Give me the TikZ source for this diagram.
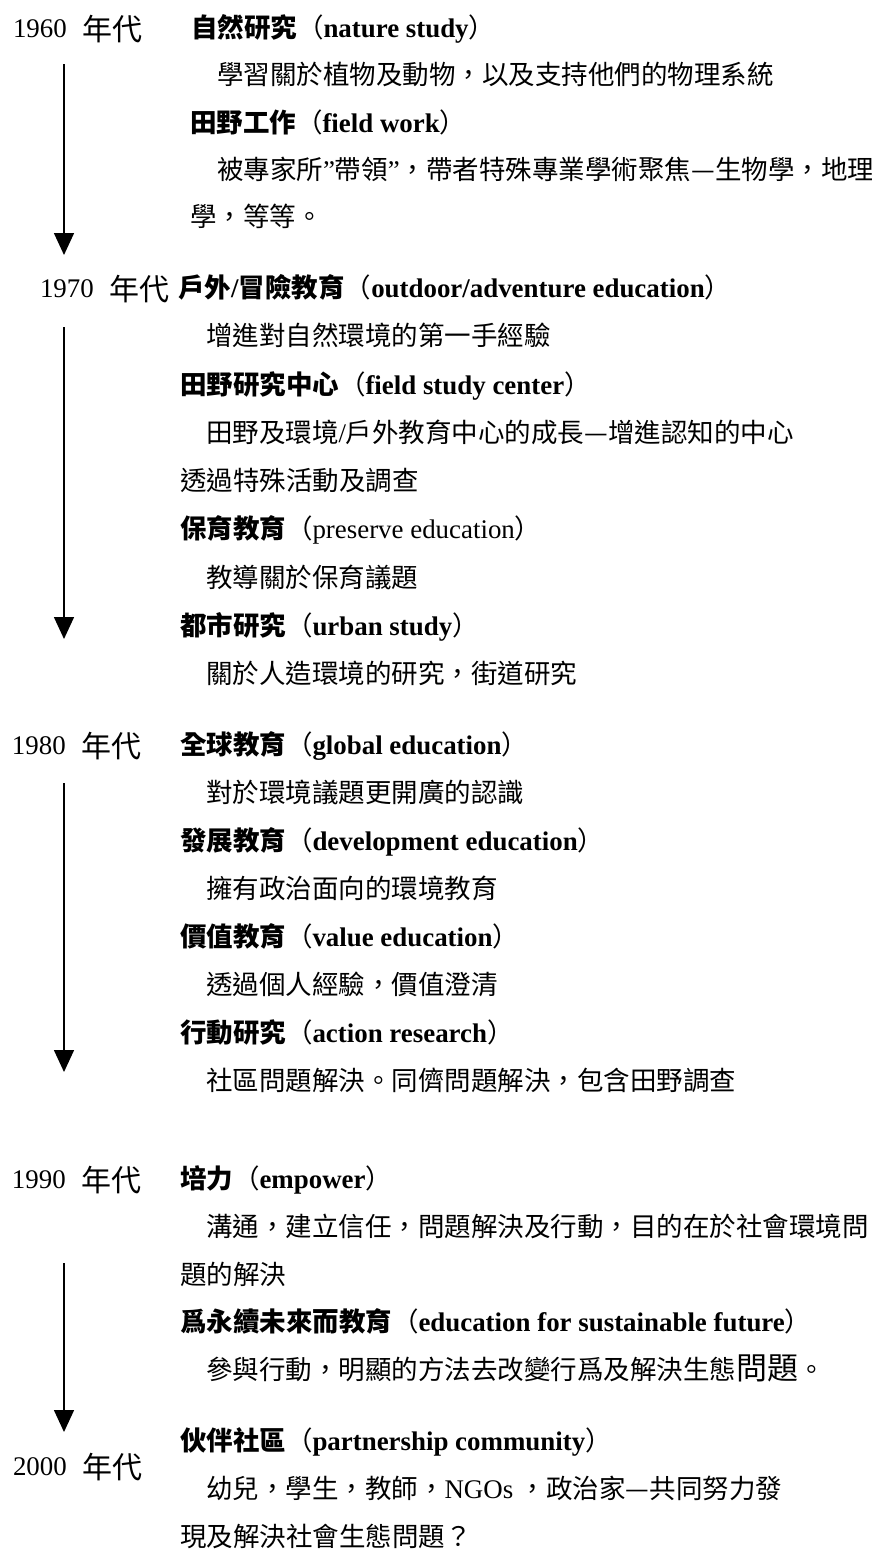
\documentclass[tikz,border=0pt]{standalone}
\usepackage{fontspec}
\setmainfont{Liberation Serif}[Scale=1.015]
\newfontfamily\cjk{Noto Sans CJK TC}
\usetikzlibrary{arrows.meta}
\newcommand\zh[1]{{\cjk #1}}
\newcommand\zhb[1]{{\cjk\bfseries #1}}
\newcommand\zhyr[1]{\raisebox{-2.5pt}{\cjk\fontsize{30}{30}\selectfont #1}}
\newcommand\zhbig[1]{{\cjk\fontsize{31}{31}\selectfont #1}}
\tikzset{
  txt/.style={anchor=west, inner sep=0pt, outer sep=0pt,
    font=\fontsize{26.5}{30}\selectfont, text height=23pt, text depth=3.2pt},
  arr/.style={line width=1.5pt, -{Triangle[width=20pt,length=22pt]}}
}
\begin{document}
\begin{tikzpicture}[x=1pt,y=-1pt]
\useasboundingbox (0,0) rectangle (872,1550);
% ---------- 1960 ----------
\node[txt] (y60) at (13,28) {1960\hspace{16pt}\zhyr{年代}};
\node[txt] (t60a) at (191,28) {\zhb{自然研究}\zh{（}\textbf{nature study}\zh{）}};
\node[txt] (d60a) at (217,75) {\zh{學習關於植物及動物，以及支持他們的物理系統}};
\node[txt] (t60b) at (190,123) {\zhb{田野工作}\zh{（}\textbf{field work}\zh{）}};
\node[txt] (d60b) at (217,170) {\zh{被專家所}"\zh{帶領}"\zh{，帶者特殊專業學術聚焦—生物學，地理}};
\node[txt] (d60c) at (190,217) {\zh{學，等等。}};
\coordinate (a1s) at (64,64);
\coordinate (a1e) at (64,255);
\draw[arr] (a1s) -- (a1e);
% ---------- 1970 ----------
\node[txt] (y70) at (40,288) {1970\hspace{16pt}\zhyr{年代}};
\node[txt] (t70a) at (178,288) {\zhb{戶外}\textbf{/}\zhb{冒險教育}\zh{（}\textbf{outdoor/adventure education}\zh{）}};
\node[txt] (d70a) at (206,336) {\zh{增進對自然環境的第一手經驗}};
\node[txt] (t70b) at (180,385) {\zhb{田野研究中心}\zh{（}\textbf{field study center}\zh{）}};
\node[txt] (d70b) at (206,433) {\zh{田野及環境}/\zh{戶外教育中心的成長—增進認知的中心}};
\node[txt] (d70c) at (180,481) {\zh{透過特殊活動及調查}};
\node[txt] (t70c) at (180,529) {\zhb{保育教育}\zh{（}preserve education\zh{）}};
\node[txt] (d70d) at (206,578) {\zh{教導關於保育議題}};
\node[txt] (t70d) at (180,626) {\zhb{都市研究}\zh{（}\textbf{urban study}\zh{）}};
\node[txt] (d70e) at (206,674) {\zh{關於人造環境的研究，街道研究}};
\coordinate (a2s) at (64,327);
\coordinate (a2e) at (64,639);
\draw[arr] (a2s) -- (a2e);
% ---------- 1980 ----------
\node[txt] (y80) at (12,745) {1980\hspace{16pt}\zhyr{年代}};
\node[txt] (t80a) at (180,745) {\zhb{全球教育}\zh{（}\textbf{global education}\zh{）}};
\node[txt] (d80a) at (206,793) {\zh{對於環境議題更開廣的認識}};
\node[txt] (t80b) at (180,841) {\zhb{發展教育}\zh{（}\textbf{development education}\zh{）}};
\node[txt] (d80b) at (206,889) {\zh{擁有政治面向的環境教育}};
\node[txt] (t80c) at (180,937) {\zhb{價值教育}\zh{（}\textbf{value education}\zh{）}};
\node[txt] (d80c) at (206,985) {\zh{透過個人經驗，價值澄清}};
\node[txt] (t80d) at (180,1033) {\zhb{行動研究}\zh{（}\textbf{action research}\zh{）}};
\node[txt] (d80d) at (206,1081) {\zh{社區問題解決。同儕問題解決，包含田野調查}};
\coordinate (a3s) at (64,783);
\coordinate (a3e) at (64,1072);
\draw[arr] (a3s) -- (a3e);
% ---------- 1990 ----------
\node[txt] (y90) at (12,1179) {1990\hspace{16pt}\zhyr{年代}};
\node[txt] (t90a) at (180,1179) {\zhb{培力}\zh{（}\textbf{empower}\zh{）}};
\node[txt] (d90a) at (206,1227) {\zh{溝通，建立信任，問題解決及行動，目的在於社會環境問}};
\node[txt] (d90b) at (180,1275) {\zh{題的解決}};
\node[txt] (t90b) at (180,1322) {\zhb{爲永續未來而教育}\zh{（}\textbf{education for sustainable future}\zh{）}};
\node[txt] (d90c) at (206,1370) {\zh{參與行動，明顯的方法去改變行爲及解決生態}\zhbig{問題}\zh{。}};
\coordinate (a4s) at (64,1263);
\coordinate (a4e) at (64,1432);
\draw[arr] (a4s) -- (a4e);
% ---------- 2000 ----------
\node[txt] (t00a) at (180,1441) {\zhb{伙伴社區}\zh{（}\textbf{partnership community}\zh{）}};
\node[txt] (y00) at (13,1466) {2000\hspace{16pt}\zhyr{年代}};
\node[txt] (d00a) at (206,1489) {\zh{幼兒，學生，教師，}NGOs \zh{，政治家—共同努力發}};
\node[txt] (d00b) at (180,1537) {\zh{現及解決社會生態問題？}};
\end{tikzpicture}
\end{document}
